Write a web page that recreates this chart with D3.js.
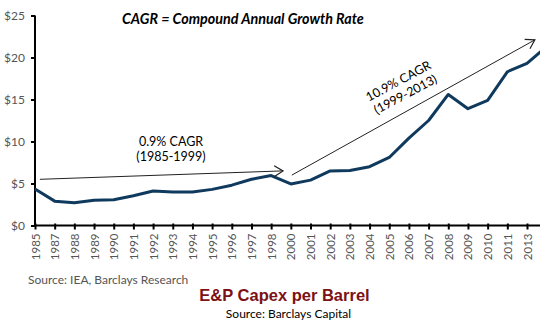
<!DOCTYPE html>
<html>
<head>
<meta charset="utf-8">
<script src="https://cdn.jsdelivr.net/npm/d3@7"></script>
<style>
  body { margin: 0; background: #fff; }
  svg { display: block; }
</style>
</head>
<body>
<div id="chart"></div>
<script>
/** Data */
const yearLabels = ["1985", "1987", "1988", "1989", "1990", "1991", "1992", "1993", "1994",
  "1995", "1996", "1997", "1998", "2000", "2001", "2002", "2003", "2004", "2005", "2006",
  "2007", "2008", "2009", "2010", "2011", "2013"];
// capex per barrel at each label, plus one point past the last label (runs off the edge)
const capexValues = [4.35, 2.9, 2.7, 3.0, 3.07, 3.55, 4.1, 4.0, 4.0,
  4.3, 4.8, 5.5, 5.95, 4.95, 5.4, 6.5, 6.55, 7.0, 8.1, 10.4,
  12.5, 15.6, 13.9, 14.9, 18.3, 19.3, 21.3];
const yTicks = [0, 5, 10, 15, 20, 25];

// trend arrows, in label index / dollar terms
const trendArrows = [
  {x0: 0.25, y0: 5.5, x1: 12.6, y1: 6.5},
  {x0: 13.05, y0: 6.0, x1: 25.4, y1: 22.1}
];

const w = 540, h = 331;
const margin = {top: 15.5, left: 35, bottom: 105.5};

const svg = d3.select("#chart").append("svg")
  .attr("width", w)
  .attr("height", h);

const x = d3.scaleLinear()
  .domain([0, yearLabels.length - 1])
  .range([35, 527]);
const y = d3.scaleLinear()
  .domain([0, 25])
  .range([h - margin.bottom, margin.top]);

const labelFont = "Lato, 'Open Sans', sans-serif";

/** y axis */
const yAxis = svg.append("g")
  .attr("transform", "translate(" + margin.left + ",0)")
  .call(d3.axisLeft(y).tickValues(yTicks).tickSize(4).tickFormat(d => "$" + d));
yAxis.select(".domain").attr("stroke", "#000").attr("stroke-width", 2).attr("d", "M0," + y(25) + "V" + y(0));
yAxis.selectAll(".tick line").attr("stroke", "#000").attr("stroke-width", 2);
yAxis.selectAll(".tick text")
  .attr("x", -10)
  .attr("fill", "#555")
  .style("font-family", labelFont)
  .style("font-size", "12px");

/** x axis */
const xAxis = svg.append("g")
  .attr("transform", "translate(0," + y(0) + ")")
  .call(d3.axisBottom(x)
    .tickValues(d3.range(yearLabels.length))
    .tickSize(4)
    .tickFormat(i => yearLabels[i]));
xAxis.select(".domain").attr("stroke", "#000").attr("stroke-width", 2).attr("d", "M" + margin.left + ",0H" + w);
xAxis.selectAll(".tick line").attr("stroke", "#000").attr("stroke-width", 2).attr("y1", -2);
xAxis.selectAll(".tick text")
  .attr("fill", "#555")
  .style("font-family", labelFont)
  .style("font-size", "11.5px")
  .attr("text-anchor", "end")
  .attr("transform", "rotate(-90)")
  .attr("x", -8)
  .attr("y", 0)
  .attr("dy", "0.35em");

/** the series */
svg.append("path")
  .datum(capexValues)
  .attr("fill", "none")
  .attr("stroke", "#0f3a5e")
  .attr("stroke-width", 3)
  .attr("stroke-linejoin", "round")
  .attr("d", d3.line().x((d, i) => x(i)).y(d => y(d)));

/** trend arrows */
svg.append("defs").append("marker")
  .attr("id", "arrow")
  .attr("viewBox", "0 0 12 12")
  .attr("refX", 11).attr("refY", 6)
  .attr("markerWidth", 13).attr("markerHeight", 13)
  .attr("markerUnits", "userSpaceOnUse")
  .attr("orient", "auto")
  .append("path")
  .attr("d", "M3,1L11,6L3,11")
  .attr("fill", "none")
  .attr("stroke", "#222")
  .attr("stroke-width", 1.1);

svg.selectAll("line.trend")
  .data(trendArrows)
  .enter()
  .append("line")
  .attr("class", "trend")
  .attr("x1", d => x(d.x0)).attr("y1", d => y(d.y0))
  .attr("x2", d => x(d.x1)).attr("y2", d => y(d.y1))
  .attr("stroke", "#222")
  .attr("stroke-width", 1)
  .attr("marker-end", "url(#arrow)");

/** annotation texts */
svg.append("text")
  .attr("x", 171).attr("y", 146)
  .attr("text-anchor", "middle")
  .attr("fill", "#000")
  .style("font-family", labelFont)
  .style("font-size", "12.5px")
  .text("0.9% CAGR");
svg.append("text")
  .attr("x", 171).attr("y", 161)
  .attr("text-anchor", "middle")
  .attr("fill", "#000")
  .style("font-family", labelFont)
  .style("font-size", "12.5px")
  .text("(1985-1999)");

const note2 = svg.append("g")
  .attr("transform", "translate(402,88) rotate(-28)");
note2.append("text")
  .attr("x", 0).attr("y", -3.5)
  .attr("text-anchor", "middle")
  .attr("fill", "#000")
  .style("font-family", labelFont)
  .style("font-size", "12.5px")
  .text("10.9% CAGR");
note2.append("text")
  .attr("x", 0).attr("y", 11.5)
  .attr("text-anchor", "middle")
  .attr("fill", "#000")
  .style("font-family", labelFont)
  .style("font-size", "12.5px")
  .text("(1999-2013)");

svg.append("text")
  .attr("x", 122)
  .attr("y", 24)
  .attr("fill", "#000")
  .style("font-family", labelFont)
  .style("font-size", "14.3px")
  .style("font-weight", "bold")
  .style("font-style", "italic")
  .text("CAGR = Compound Annual Growth Rate");

svg.append("text")
  .attr("x", 28)
  .attr("y", 283.5)
  .attr("fill", "#555")
  .style("font-family", labelFont)
  .style("font-size", "12px")
  .text("Source: IEA, Barclays Research");

svg.append("text")
  .attr("x", 284.5)
  .attr("y", 301)
  .attr("text-anchor", "middle")
  .attr("fill", "#7c1215")
  .style("font-family", "'Liberation Sans', Arial, sans-serif")
  .style("font-size", "16.5px")
  .style("font-weight", "bold")
  .text("E&P Capex per Barrel");

svg.append("text")
  .attr("x", 288.5)
  .attr("y", 318)
  .attr("text-anchor", "middle")
  .attr("fill", "#000")
  .style("font-family", labelFont)
  .style("font-size", "12px")
  .text("Source: Barclays Capital");
</script>
</body>
</html>
